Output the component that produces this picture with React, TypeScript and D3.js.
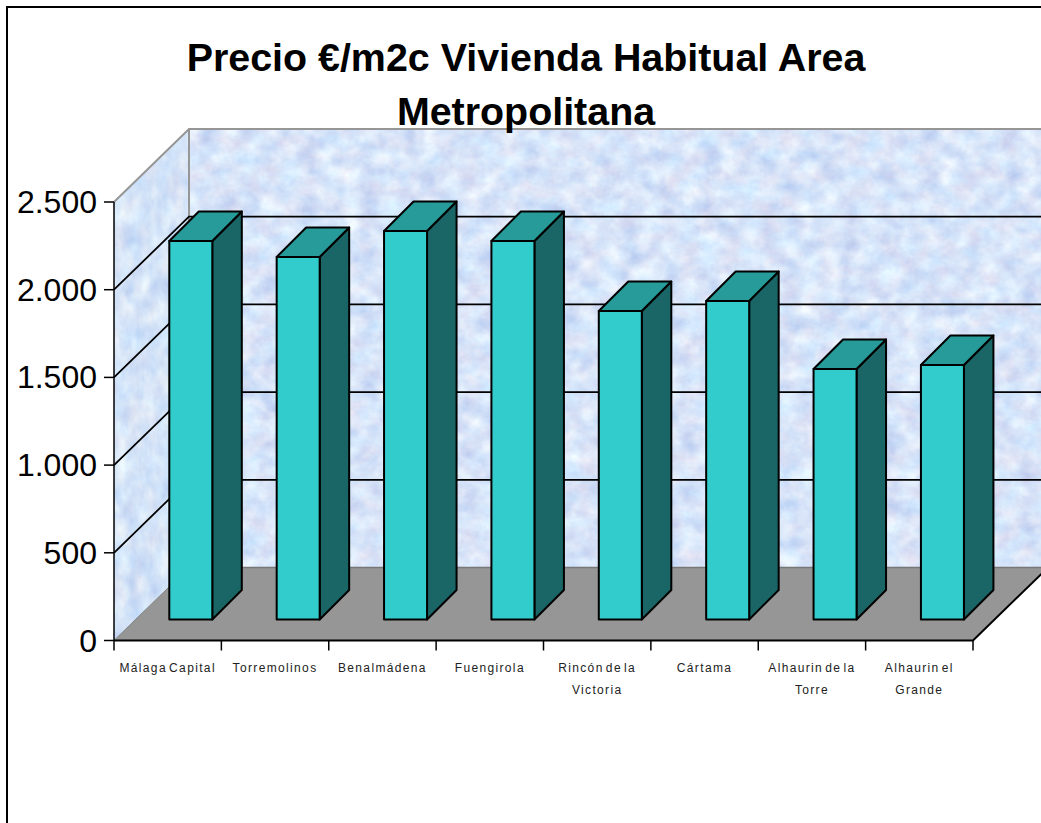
import React from "react";
import * as d3 from "d3";

const categories = [
  ["Málaga Capital"],
  ["Torremolinos"],
  ["Benalmádena"],
  ["Fuengirola"],
  ["Rincón de la", "Victoria"],
  ["Cártama"],
  ["Alhaurin de la", "Torre"],
  ["Alhaurin el", "Grande"],
];
const values = [2158, 2067, 2215, 2158, 1759, 1816, 1428, 1451];
const ticks = [0, 500, 1000, 1500, 2000, 2500];
const tickLabels = ["0", "500", "1.000", "1.500", "2.000", "2.500"];
const titleLines = ["Precio €/m2c Vivienda Habitual Area", "Metropolitana"];

const W = 1041, H = 823;
const x0 = 114, x1 = 973, y0 = 640.5, yTop = 202;
const wallDx = 75, wallDy = 73, barDepth = 29.5, barW = 43, barOffset = 55.3, barBase = 619.5;

const band = d3.scaleBand<number>().domain(d3.range(categories.length)).range([x0, x1]);
const y = d3.scaleLinear().domain([0, 2500]).range([y0, yTop]);
const h = (v: number) => y(0) - y(v);
const poly = (p: [number, number][]) => (d3.line()(p) as string) + "Z";

export default function App() {
  const bx = x0 + wallDx, right = W + 10;
  return (
    <svg width={W} height={H} viewBox={`0 0 ${W} ${H}`}
      style={{ position: "absolute", left: 0, top: 0, display: "block", background: "#fff" }}>
      <defs>
        <filter id="marble" x="0" y="0" width="100%" height="100%" colorInterpolationFilters="sRGB">
          <feTurbulence type="fractalNoise" baseFrequency="0.05 0.06" numOctaves={5} seed={7} />
          <feColorMatrix type="matrix"
            values="0.22 0.16 0 0 0.655  0.10 0.20 0 0 0.745  0 0.10 0 0 0.925  0 0 0 0 1" />
        </filter>
        <filter id="marbleSide" x="0" y="0" width="100%" height="100%" colorInterpolationFilters="sRGB">
          <feTurbulence type="fractalNoise" baseFrequency="0.07 0.04" numOctaves={4} seed={3} />
          <feColorMatrix type="matrix"
            values="0.22 0.14 0 0 0.65  0.12 0.16 0 0 0.75  0 0.08 0 0 0.93  0 0 0 0 1" />
        </filter>
        <clipPath id="sideClip">
          <path d={poly([[x0, yTop], [bx, yTop - wallDy], [bx, y0 - wallDy], [x0, y0]])} />
        </clipPath>
      </defs>

      <rect x={7} y={7} width={W + 20} height={H + 20} fill="#fff" stroke="#000" strokeWidth={2} />

      {/* back wall */}
      <rect x={bx} y={yTop - wallDy} width={right - bx} height={y0 - yTop} filter="url(#marble)" />
      {/* side wall */}
      <g clipPath="url(#sideClip)">
        <rect x={x0} y={yTop - wallDy} width={wallDx} height={y0 - yTop + wallDy} filter="url(#marbleSide)" />
      </g>
      {/* floor */}
      <path d={poly([[x0, y0], [bx, y0 - wallDy], [x1 + wallDx, y0 - wallDy], [x1, y0]])} fill="#969696" />
      <path d={`M${bx},${y0 - wallDy}H${right}`} stroke="#777" strokeWidth={1.5} />
      <path d={`M${x0},${y0}L${bx},${y0 - wallDy}`} stroke="#808080" strokeWidth={1} />

      {/* wall edges */}
      <path d={`M${x0},${yTop}L${bx},${yTop - wallDy}H${right}M${bx},${yTop - wallDy}V${y0 - wallDy}`}
        fill="none" stroke="#969696" strokeWidth={2} />

      {/* grid */}
      {ticks.filter(t => t > 0 && t < 2500).map(t => (
        <path key={t} d={`M${x0},${y(t)}L${bx},${y(t) - wallDy}H${right}`} fill="none" stroke="#000" strokeWidth={1.8} />
      ))}

      {/* axes */}
      <path d={`M${x0},${yTop}V${y0}`} stroke="#000" strokeWidth={1.5} />
      <path d={`M${x0},${y0}H${x1}L${right},${y0 - (right - x1) * wallDy / wallDx}`} fill="none" stroke="#000" strokeWidth={2} />
      {ticks.map((t, i) => (
        <g key={t}>
          <path d={`M${x0 - 10},${y(t)}H${x0}`} stroke="#000" strokeWidth={1.5} />
          <text x={97} y={y(t) + 11} textAnchor="end" fontFamily="Liberation Sans" fontSize={32} fill="#000">
            {tickLabels[i]}
          </text>
        </g>
      ))}
      {d3.range(categories.length + 1).map(i => {
        const tx = x0 + i * band.step();
        return <path key={i} d={`M${tx},${y0}v10`} stroke="#000" strokeWidth={1.5} />;
      })}

      {/* bars */}
      {values.map((v, i) => {
        const l = band(i)! + barOffset, r = l + barW, b = barBase, t = barBase - h(v);
        const d = barDepth;
        return (
          <g key={i} stroke="#000" strokeWidth={2} strokeLinejoin="round">
            <path d={poly([[r, t], [r + d, t - d], [r + d, b - d], [r, b]])} fill="#1a6666" />
            <path d={poly([[l, t], [l + d, t - d], [r + d, t - d], [r, t]])} fill="#269b99" />
            <rect x={l} y={t} width={barW} height={b - t} fill="#33cccc" />
          </g>
        );
      })}

      {/* category labels */}
      {categories.map((lines, i) => (
        <text key={i} textAnchor="middle" fontFamily="Liberation Sans" fontSize={12}
          letterSpacing={1.35} wordSpacing={-2.5} fill="#222">
          {lines.map((s, j) => (
            <tspan key={j} x={band(i)! + band.bandwidth() / 2} y={672 + j * 22}>{s}</tspan>
          ))}
        </text>
      ))}

      {/* title */}
      <text textAnchor="middle" fontFamily="Liberation Sans" fontWeight="bold" fontSize={39.4} fill="#000">
        {titleLines.map((s, j) => (
          <tspan key={j} x={526} y={71 + j * 53.5}>{s}</tspan>
        ))}
      </text>
    </svg>
  );
}
